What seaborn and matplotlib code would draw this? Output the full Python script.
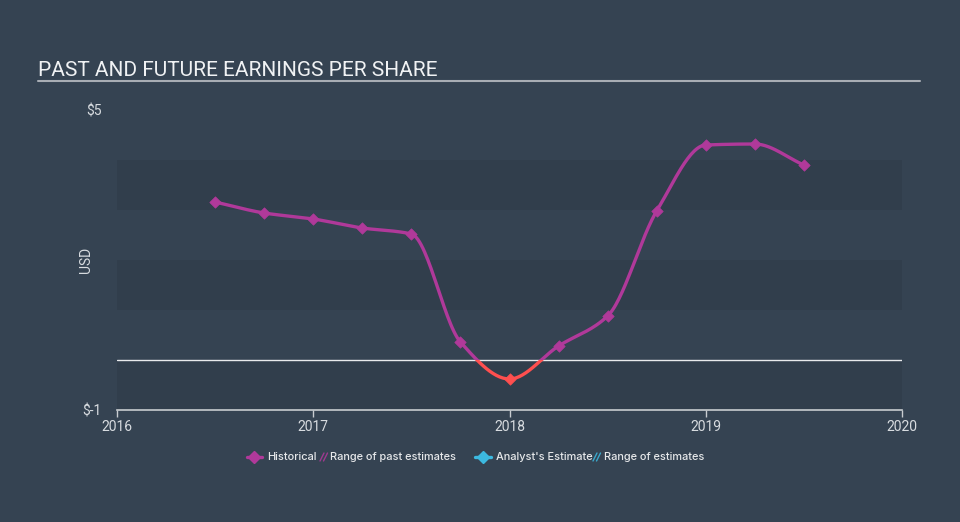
import numpy as np
import pandas as pd
import matplotlib
matplotlib.use("Agg")
import matplotlib.pyplot as plt
from matplotlib.lines import Line2D
from matplotlib.patches import Rectangle
import seaborn as sns

# ---- data ----
dates = [2016.5, 2016.75, 2017.0, 2017.25, 2017.5, 2017.75, 2018.0,
         2018.25, 2018.5, 2018.75, 2019.0, 2019.25, 2019.5]
eps = [3.16, 2.94, 2.82, 2.64, 2.52, 0.36, -0.38,
       0.28, 0.88, 2.98, 4.30, 4.32, 3.90]
x_ticks = [2016, 2017, 2018, 2019, 2020]
y_tick_vals = [-1, 5]
y_tick_labels = ["$-1", "$5"]
title = "PAST AND FUTURE EARNINGS PER SHARE"
legend_labels = ["Historical", "Range of past estimates", "Analyst's Estimate", "Range of estimates"]

BG = "#354352"
BAND = "#313e4c"
MAG = "#b0399a"
RED = "#ff4f4f"
CYAN = "#3cb9e0"
TXT = "#d8dce0"


def monotone(x, y, n=30):
    x = np.asarray(x, float); y = np.asarray(y, float)
    h = np.diff(x); d = np.diff(y) / h
    m = np.zeros_like(y)
    m[0] = d[0]; m[-1] = d[-1]
    for i in range(1, len(x) - 1):
        if d[i - 1] * d[i] <= 0:
            m[i] = 0
        else:
            w1 = 2 * h[i] + h[i - 1]; w2 = h[i] + 2 * h[i - 1]
            m[i] = (w1 + w2) / (w1 / d[i - 1] + w2 / d[i])
    xs, ys = [], []
    for i in range(len(x) - 1):
        t = np.linspace(0, 1, n, endpoint=(i == len(x) - 2))
        h00 = 2 * t**3 - 3 * t**2 + 1; h10 = t**3 - 2 * t**2 + t
        h01 = -2 * t**3 + 3 * t**2; h11 = t**3 - t**2
        xs.append(x[i] + t * h[i])
        ys.append(h00 * y[i] + h10 * h[i] * m[i] + h01 * y[i + 1] + h11 * h[i] * m[i + 1])
    return np.concatenate(xs), np.concatenate(ys)


sns.set_theme(style="dark")
plt.rcParams['font.family'] = ['Roboto', 'DejaVu Sans']

fig = plt.figure(figsize=(9.6, 5.22), dpi=100, facecolor=BG)
ax = fig.add_axes([117 / 960, 1 - 410 / 522, 785 / 960, 300 / 522])
ax.set_facecolor(BG)

for lo, hi in [(3, 4), (1, 2), (-1, 0)]:
    ax.axhspan(lo, hi, color=BAND, zorder=0, lw=0)
ax.axhline(0, color="#e8eaec", lw=1, zorder=1)

sx, sy = monotone(dates, eps)
curve = pd.DataFrame({"date": sx, "eps": sy})
sns.lineplot(data=curve, x="date", y="eps", ax=ax, color=MAG, lw=2.4, sort=False, zorder=3)
line_mag = ax.lines[-1]
sns.lineplot(data=curve, x="date", y="eps", ax=ax, color=RED, lw=2.4, sort=False, zorder=3)
line_red = ax.lines[-1]
line_mag.set_clip_path(Rectangle((2015, 0), 10, 10, transform=ax.transData))
line_red.set_clip_path(Rectangle((2015, -10), 10, 10, transform=ax.transData))

pts = pd.DataFrame({"date": dates, "eps": eps})
pos = pts[pts.eps >= 0]; neg = pts[pts.eps < 0]
sns.scatterplot(data=pos, x="date", y="eps", ax=ax, marker="D", s=34, color=MAG, edgecolor=MAG, zorder=4)
sns.scatterplot(data=neg, x="date", y="eps", ax=ax, marker="D", s=34, color=RED, edgecolor=RED, zorder=4)

ax.set_xlim(2016, 2020)
ax.set_ylim(-1, 5)
ax.set_xticks(x_ticks)
ax.set_xticklabels([str(t) for t in x_ticks], color=TXT, fontsize=10)
ax.set_yticks(y_tick_vals)
ax.set_yticklabels(y_tick_labels, color=TXT, fontsize=10)
ax.tick_params(axis="x", length=5, width=1, color="#c8ccd0", pad=2, bottom=True)
ax.tick_params(axis="y", length=0, pad=11)
ax.set_xlabel("")
ax.set_ylabel("USD", color=TXT, fontsize=10)
ax.yaxis.set_label_coords(-0.03, 0.5)
for s in ["top", "right", "left"]:
    ax.spines[s].set_visible(False)
ax.spines["bottom"].set_color("#c8ccd0")
ax.spines["bottom"].set_linewidth(1.2)
ax.grid(False)

fig.text(38 / 960, 1 - 70 / 522, title, color="#f0f2f4", fontsize=15, va="center", ha="left")
fig.add_artist(Line2D([38 / 960, 920 / 960], [1 - 81 / 522, 1 - 81 / 522], color="#a8adb4", lw=1.5))

# ---- legend (manual) ----
W, H = 960, 522
ly = 1 - 457 / H


def fx(px):
    return px / W


def fy(py):
    return 1 - py / H


def line_icon(x0, x1, color):
    fig.add_artist(Line2D([fx(x0), fx(x1)], [ly, ly], color=color, lw=2.4))
    fig.add_artist(Line2D([fx((x0 + x1) / 2)], [ly], color=color, marker="D", markersize=6, lw=0))


def hatch_icon(x0, color):
    for dx in (0, 3.5):
        fig.add_artist(Line2D([fx(x0 + dx), fx(x0 + dx + 4)], [fy(461), fy(453)],
                              color=color, lw=1.0, alpha=0.85))


lfont = dict(color="#e6e8ea", fontsize=7.9, va="center", ha="left", family=["Inter", "DejaVu Sans"],
             weight="medium")
line_icon(247, 262, MAG)
fig.text(fx(267), ly, legend_labels[0], **lfont)
hatch_icon(320, MAG)
fig.text(fx(330), ly, legend_labels[1], **lfont)
line_icon(475, 491, CYAN)
fig.text(fx(496), ly, legend_labels[2], **lfont)
hatch_icon(593, CYAN)
fig.text(fx(604), ly, legend_labels[3], **lfont)

fig.savefig("out.png", dpi=100, facecolor=BG)
